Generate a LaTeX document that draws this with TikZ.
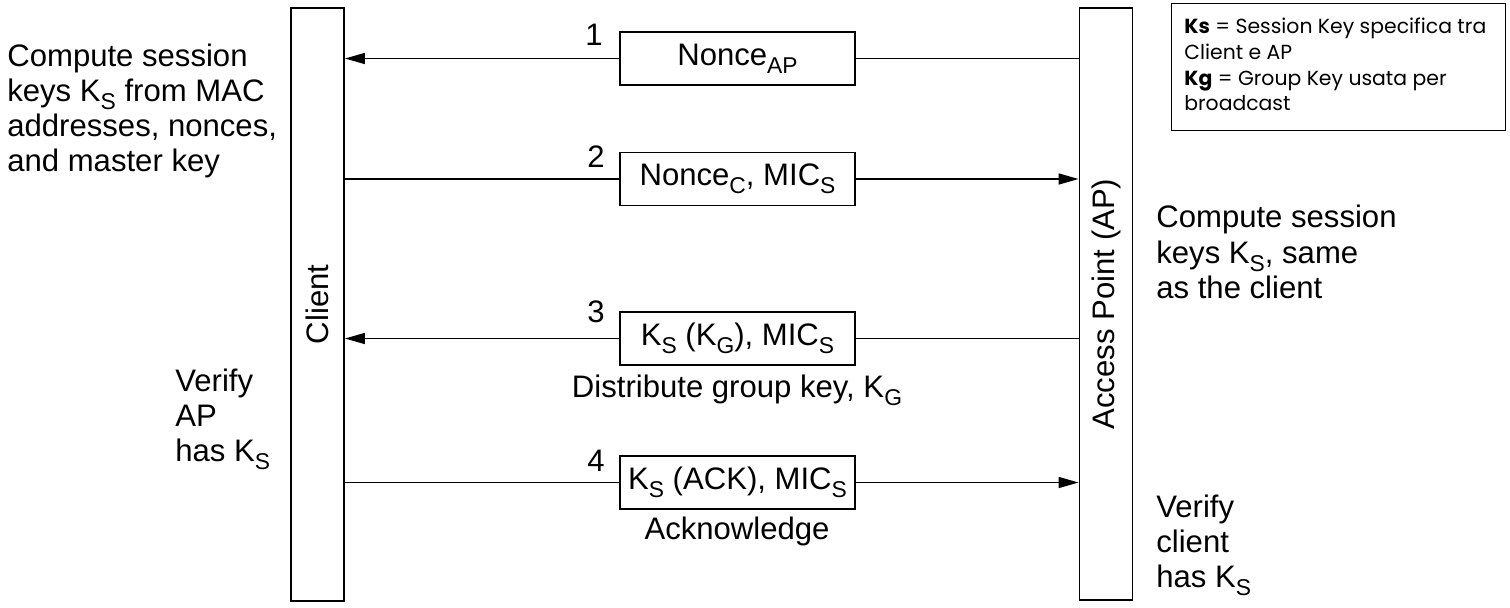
\documentclass[tikz,border=0pt]{standalone}
\usepackage{fontspec}
\setmainfont{Liberation Sans}
\newfontfamily\legendfont{Poppins}
\usetikzlibrary{arrows.meta}
\newcommand{\lowsub}[1]{\raisebox{-4.5pt}{\fontsize{13}{13}\selectfont #1}}
\begin{document}
\begin{tikzpicture}[x=0.02cm,y=-0.02cm, % key handshake placeholder
  every node/.style={font=\fontsize{17.7}{20}\selectfont},
  bar/.style={draw,line width=1.1pt,minimum width=1.06cm,minimum height=11.86cm,inner sep=0pt},
  msg/.style={draw,line width=0.9pt,minimum width=4.7cm,minimum height=1.06cm,inner sep=0pt},
  note/.style={align=left,inner sep=0pt,anchor=west},
  arr/.style={line width=0.9pt,-{Triangle[length=0.4cm,width=0.22cm]}},
  wire/.style={line width=0.9pt}]
\useasboundingbox (0,0) rectangle (1510,608);
% the two parties
\node[bar] (client) at (317.5,304.5) {};
\node[rotate=90] (clientlabel) at (client) {Client};
\node[bar] (ap) at (1106,304) {};
\node[rotate=90] (aplabel) at (ap) {Access Point (AP)};
% messages
\node[msg] (m1) at (737.5,58.5) {Nonce\lowsub{AP}};
\node[msg] (m2) at (737.5,179) {Nonce\lowsub{C}, MIC\lowsub{S}};
\node[msg] (m3) at (737.5,338.5) {K\lowsub{S} (K\lowsub{G}), MIC\lowsub{S}};
\node[msg] (m4) at (737.5,482.5) {K\lowsub{S} (ACK), MIC\lowsub{S}};
\node (n1) at (594,35) {1};
\node (n2) at (596,157) {2};
\node (n3) at (596,312) {3};
\node (n4) at (596,461) {4};
\node (c3) at (737,390) {Distribute group key, K\lowsub{G}};
\node (c4) at (737,531) {Acknowledge};
\draw[wire] (ap.west |- m1.east) -- (m1.east);
\draw[arr] (m1.west) -- (client.east |- m1.west);
\draw[wire] (client.east |- m2.west) -- (m2.west);
\draw[arr] (m2.east) -- (ap.west |- m2.east);
\draw[wire] (ap.west |- m3.east) -- (m3.east);
\draw[arr] (m3.west) -- (client.east |- m3.west);
\draw[wire] (client.east |- m4.west) -- (m4.west);
\draw[arr] (m4.east) -- (ap.west |- m4.east);
% what each side does
\node[note] (t1) at (7,111) {Compute session\\keys K\lowsub{S} from MAC\\addresses, nonces,\\and master key};
\node[note] (t2) at (175,419) {Verify\\AP\\has K\lowsub{S}};
\node[note] (t3) at (1156,252) {Compute session\\keys K\lowsub{S}, same\\as the client};
\node[note] (t4) at (1156,545) {Verify\\client\\has K\lowsub{S}};
% legend
\node[draw,line width=0.8pt,anchor=north west,minimum width=6.68cm,minimum height=2.54cm,inner sep=0pt] (legend) at (1171,3) {};
\node[anchor=north west,align=left,inner sep=0pt,font=\legendfont\fontsize{11.6}{14.6}\selectfont] (legendtext) at (1184,18) {\textbf{Ks} = Session Key specifica tra\\Client e AP\\\textbf{Kg} = Group Key usata per\\broadcast};
\end{tikzpicture}
\end{document}
